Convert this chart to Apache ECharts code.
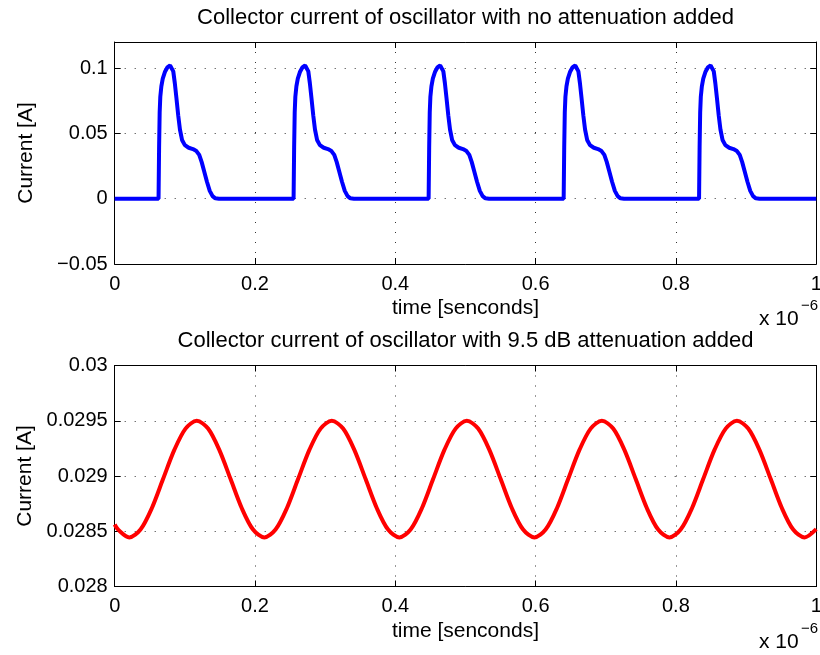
<!DOCTYPE html>
<html>
<head>
<meta charset="utf-8">
<script src="https://cdn.jsdelivr.net/npm/echarts@6/dist/echarts.min.js"></script>
<style>html,body{margin:0;padding:0;background:#fff}#chart{width:820px;height:655px}</style>
</head>
<body>
<div id="chart"></div>
<script>
// ---------- data (time in units of 1e-6 s) ----------
const titles = [
  'Collector current of oscillator with no attenuation added',
  'Collector current of oscillator with 9.5 dB attenuation added'
];
const xAxisName = 'time [senconds]';
const yAxisName = 'Current [A]';
const xTickValues = [0, 0.2, 0.4, 0.6, 0.8, 1];
const xTickLabels = ['0', '0.2', '0.4', '0.6', '0.8', '1'];
const topYTickValues = [-0.05, 0, 0.05, 0.1];
const topYTickLabels = ['\u22120.05', '0', '0.05', '0.1'];
const bottomYTickValues = [0.028, 0.0285, 0.029, 0.0295, 0.03];
const bottomYTickLabels = ['0.028', '0.0285', '0.029', '0.0295', '0.03'];

const topTime = [
  0,
  0.0625, 0.0633, 0.0641, 0.0650, 0.0665, 0.0685, 0.0715, 0.0750, 0.0790, 0.0815, 0.0835, 0.0857, 0.0880, 0.0905,
  0.0930, 0.0960, 0.1000, 0.1055, 0.1115, 0.1165, 0.1205, 0.1240, 0.1275, 0.1315, 0.1355, 0.1395, 0.1435, 0.1485,
  0.2550, 0.2558, 0.2566, 0.2575, 0.2590, 0.2610, 0.2640, 0.2675, 0.2715, 0.2740, 0.2760, 0.2782, 0.2805, 0.2830,
  0.2855, 0.2885, 0.2925, 0.2980, 0.3040, 0.3090, 0.3130, 0.3165, 0.3200, 0.3240, 0.3280, 0.3320, 0.3360, 0.3410,
  0.4475, 0.4483, 0.4491, 0.4500, 0.4515, 0.4535, 0.4565, 0.4600, 0.4640, 0.4665, 0.4685, 0.4707, 0.4730, 0.4755,
  0.4780, 0.4810, 0.4850, 0.4905, 0.4965, 0.5015, 0.5055, 0.5090, 0.5125, 0.5165, 0.5205, 0.5245, 0.5285, 0.5335,
  0.6400, 0.6408, 0.6416, 0.6425, 0.6440, 0.6460, 0.6490, 0.6525, 0.6565, 0.6590, 0.6610, 0.6632, 0.6655, 0.6680,
  0.6705, 0.6735, 0.6775, 0.6830, 0.6890, 0.6940, 0.6980, 0.7015, 0.7050, 0.7090, 0.7130, 0.7170, 0.7210, 0.7260,
  0.8330, 0.8338, 0.8346, 0.8355, 0.8370, 0.8390, 0.8420, 0.8455, 0.8495, 0.8520, 0.8540, 0.8562, 0.8585, 0.8610,
  0.8635, 0.8665, 0.8705, 0.8760, 0.8820, 0.8870, 0.8910, 0.8945, 0.8980, 0.9020, 0.9060, 0.9100, 0.9140, 0.9190,
  1
];
const topCurrent = [
  0,
  0, 0.040, 0.066, 0.078, 0.086, 0.092, 0.097, 0.1005, 0.1020, 0.1015, 0.0975, 0.0885, 0.0770, 0.0640,
  0.0530, 0.0450, 0.0410, 0.0390, 0.0380, 0.0365, 0.0335, 0.0280, 0.0210, 0.0130, 0.0060, 0.0020, 0.0003, 0,
  0, 0.040, 0.066, 0.078, 0.086, 0.092, 0.097, 0.1005, 0.1020, 0.1015, 0.0975, 0.0885, 0.0770, 0.0640,
  0.0530, 0.0450, 0.0410, 0.0390, 0.0380, 0.0365, 0.0335, 0.0280, 0.0210, 0.0130, 0.0060, 0.0020, 0.0003, 0,
  0, 0.040, 0.066, 0.078, 0.086, 0.092, 0.097, 0.1005, 0.1020, 0.1015, 0.0975, 0.0885, 0.0770, 0.0640,
  0.0530, 0.0450, 0.0410, 0.0390, 0.0380, 0.0365, 0.0335, 0.0280, 0.0210, 0.0130, 0.0060, 0.0020, 0.0003, 0,
  0, 0.040, 0.066, 0.078, 0.086, 0.092, 0.097, 0.1005, 0.1020, 0.1015, 0.0975, 0.0885, 0.0770, 0.0640,
  0.0530, 0.0450, 0.0410, 0.0390, 0.0380, 0.0365, 0.0335, 0.0280, 0.0210, 0.0130, 0.0060, 0.0020, 0.0003, 0,
  0, 0.040, 0.066, 0.078, 0.086, 0.092, 0.097, 0.1005, 0.1020, 0.1015, 0.0975, 0.0885, 0.0770, 0.0640,
  0.0530, 0.0450, 0.0410, 0.0390, 0.0380, 0.0365, 0.0335, 0.0280, 0.0210, 0.0130, 0.0060, 0.0020, 0.0003, 0,
  0
];

const bottomTime = [
  0, 0.0048,
  0.0208, 0.0368, 0.0529, 0.0689, 0.0850, 0.1010, 0.1170, 0.1331, 0.1491, 0.1652, 0.1812, 0.1972,
  0.2133, 0.2293, 0.2454, 0.2614, 0.2775, 0.2935, 0.3095, 0.3256, 0.3416, 0.3577, 0.3737, 0.3897,
  0.4058, 0.4218, 0.4379, 0.4539, 0.4700, 0.4860, 0.5020, 0.5181, 0.5341, 0.5502, 0.5662, 0.5822,
  0.5983, 0.6143, 0.6304, 0.6464, 0.6625, 0.6785, 0.6945, 0.7106, 0.7266, 0.7427, 0.7587, 0.7747,
  0.7908, 0.8068, 0.8229, 0.8389, 0.8550, 0.8710, 0.8870, 0.9031, 0.9191, 0.9352, 0.9512, 0.9672,
  0.9833, 1
];
const bottomCurrent = [
  0.028561, 0.028515,
  0.028444, 0.028515, 0.028708, 0.028972, 0.029236, 0.029429, 0.029500, 0.029429, 0.029236, 0.028972, 0.028708, 0.028515,
  0.028444, 0.028515, 0.028708, 0.028972, 0.029236, 0.029429, 0.029500, 0.029429, 0.029236, 0.028972, 0.028708, 0.028515,
  0.028444, 0.028515, 0.028708, 0.028972, 0.029236, 0.029429, 0.029500, 0.029429, 0.029236, 0.028972, 0.028708, 0.028515,
  0.028444, 0.028515, 0.028708, 0.028972, 0.029236, 0.029429, 0.029500, 0.029429, 0.029236, 0.028972, 0.028708, 0.028515,
  0.028444, 0.028515, 0.028708, 0.028972, 0.029236, 0.029429, 0.029500, 0.029429, 0.029236, 0.028972, 0.028708, 0.028515,
  0.028444, 0.028519
];

// ---------- chart ----------
const FONT = '"Liberation Sans", Arial, Helvetica, sans-serif';
const FS = 20;
const NFS = 21;
const TFS = 22;
const chart = echarts.init(document.getElementById('chart'), null, {renderer: 'canvas'});

function lookup(values, labels) {
  return function (v) {
    for (let i = 0; i < values.length; i++) {
      if (Math.abs(v - values[i]) < 1e-9) return labels[i];
    }
    return '';
  };
}
const grids = [
  {left: 114.7, top: 42, width: 701.5, height: 222, outerBoundsMode: 'none', containLabel: false},
  {left: 114.7, top: 365.5, width: 701.5, height: 221, outerBoundsMode: 'none', containLabel: false}
];
const dotted = {show: true, lineStyle: {color: '#333', width: 1, type: [1, 9]}};
const axisLine = {show: true, onZero: false, lineStyle: {color: '#000', width: 1}};
const tick = {show: true, inside: true, length: 6, lineStyle: {color: '#000', width: 1}};

function xAxes(gi) {
  return [
    {
      gridIndex: gi, type: 'value', position: 'bottom', min: 0, max: 1, interval: 0.2,
      axisLine: axisLine, axisTick: tick, splitLine: dotted,
      axisLabel: {fontFamily: FONT, fontSize: FS, color: '#000', margin: 10,
        formatter: lookup(xTickValues, xTickLabels)},
      name: xAxisName, nameLocation: 'middle', nameGap: 34,
      nameTextStyle: {fontFamily: FONT, fontSize: NFS, color: '#000'}
    },
    {
      gridIndex: gi, type: 'value', position: 'top', min: 0, max: 1, interval: 0.2,
      axisLine: axisLine, axisTick: tick, splitLine: {show: false}, axisLabel: {show: false}
    }
  ];
}
function yAxes(gi, min, max, interval, vals, labs) {
  return [
    {
      gridIndex: gi, type: 'value', position: 'left', min: min, max: max, interval: interval,
      axisLine: axisLine, axisTick: tick, splitLine: dotted,
      axisLabel: {fontFamily: FONT, fontSize: FS, color: '#000', margin: 7,
        formatter: lookup(vals, labs)},
      name: yAxisName, nameLocation: 'middle', nameGap: 78,
      nameTextStyle: {fontFamily: FONT, fontSize: NFS, color: '#000'}
    },
    {
      gridIndex: gi, type: 'value', position: 'right', min: min, max: max, interval: interval,
      axisLine: axisLine, axisTick: tick, splitLine: {show: false}, axisLabel: {show: false}
    }
  ];
}

const option = {
  backgroundColor: '#fff',
  animation: false,
  title: [
    {text: titles[0], left: 465.5, top: 7, textAlign: 'center', padding: 0,
      textStyle: {fontFamily: FONT, fontSize: TFS, fontWeight: 'normal', color: '#000'}},
    {text: titles[1], left: 465.5, top: 330, textAlign: 'center', padding: 0,
      textStyle: {fontFamily: FONT, fontSize: TFS, fontWeight: 'normal', color: '#000'}}
  ],
  grid: grids,
  xAxis: xAxes(0).concat(xAxes(1)),
  yAxis: yAxes(0, -0.05, 0.12, 0.05, topYTickValues, topYTickLabels)
    .concat(yAxes(1, 0.028, 0.03, 0.0005, bottomYTickValues, bottomYTickLabels)),
  series: [
    {
      type: 'line', xAxisIndex: 0, yAxisIndex: 0, showSymbol: false, smooth: false,
      lineStyle: {color: '#0000ff', width: 4}, itemStyle: {color: '#0000ff'},
      data: topTime.map((t, i) => [t, topCurrent[i]])
    },
    {
      type: 'line', xAxisIndex: 2, yAxisIndex: 2, showSymbol: false, smooth: 0.3,
      lineStyle: {color: '#ff0000', width: 4}, itemStyle: {color: '#ff0000'},
      data: bottomTime.map((t, i) => [t, bottomCurrent[i]])
    }
  ],
  graphic: [
    {type: 'text', left: 759, top: 309, style: {text: 'x 10', font: NFS + 'px ' + FONT, fill: '#000'}},
    {type: 'text', left: 801, top: 298, style: {text: '\u22126', font: '15px ' + FONT, fill: '#000'}},
    {type: 'text', left: 759, top: 632, style: {text: 'x 10', font: NFS + 'px ' + FONT, fill: '#000'}},
    {type: 'text', left: 801, top: 621, style: {text: '\u22126', font: '15px ' + FONT, fill: '#000'}}
  ]
};
chart.setOption(option);
</script>
</body>
</html>
